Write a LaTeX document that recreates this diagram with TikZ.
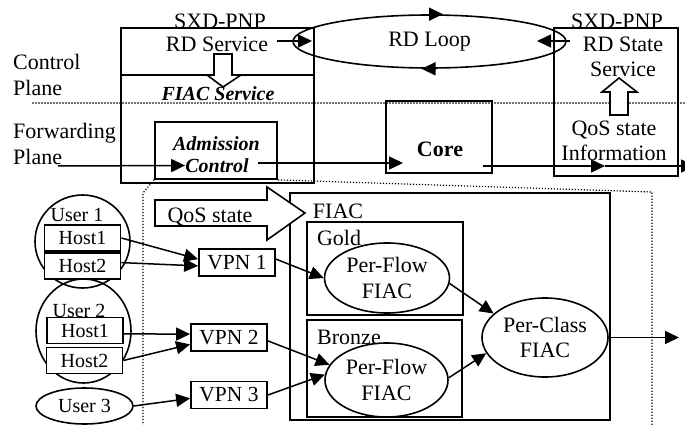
\documentclass[tikz,border=0pt]{standalone}
\usepackage{fontspec}
\setmainfont{Liberation Serif}
\usepackage{tikz}
\usetikzlibrary{arrows.meta,shapes.geometric}
\tikzstyle{txt}		= [inner sep=0pt, align=center, font=\fontsize{22}{25.5}\selectfont]
\tikzstyle{btxt}	= [inner sep=0pt, align=center, font=\fontsize{20}{22}\selectfont\bfseries\itshape]
\tikzstyle{utxt}	= [inner sep=0pt, align=center, font=\fontsize{20}{24}\selectfont]
\tikzstyle{frame}	= [draw=black, line width=1.8pt, inner sep=0pt]
\tikzstyle{hostbox}	= [frame, fill=white, minimum width=76pt, minimum height=26pt, font=\fontsize{20}{24}\selectfont]
\tikzstyle{vpnbox}	= [frame, fill=white, minimum width=76pt, minimum height=27pt, font=\fontsize{21.5}{24}\selectfont]
\tikzstyle{oval}	= [ellipse, draw=black, line width=1.6pt, inner sep=0pt, align=center, font=\fontsize{22}{25.5}\selectfont]
\tikzstyle{edge}	= [draw, line width=1.5pt, -{Triangle[length=14pt,width=13pt]}]
\tikzstyle{plane}	= [draw=black!55, line width=1.5pt, dash pattern=on 1.5pt off 1.5pt]
\tikzstyle{region}	= [draw=black, line width=1.2pt, dash pattern=on 1.2pt off 1.8pt]
\tikzstyle{fat}		= [draw=black, line width=1.6pt, fill=white, line join=miter]

\begin{document}
\begin{tikzpicture}[x=1pt, y=-1pt]
	\useasboundingbox (0,0) rectangle (685,425);
	
	%%%%% Planes
	\node[txt, anchor=west, align=left] (ctrl) at (13,75) {Control\\Plane};
	\node[txt, anchor=west, align=left] (fwd) at (13,144) {Forwarding\\Plane};
	\path[plane] (32,103) -- (685,103);
	
	%%%%% SXD-PNP services
	\node[frame, minimum width=193pt, minimum height=155pt] (rds) at (217.5,105.5) {};
	\draw[frame] (rds.west |- 0,75) -- (rds.east |- 0,75);
	\node[frame, minimum width=124pt, minimum height=148pt] (rdst) at (616,102) {};
	
	\node[txt] (sxd1) at (220,21) {SXD-PNP};
	\node[txt] (rdsvc) at (217,44) {RD Service};
	\node[btxt] (fiacsvc) at (218,94) {FIAC Service};
	\node[txt] (sxd2) at (617,21.5) {SXD-PNP};
	\node[txt] (rdsttxt) at (623,57) {RD State\\Service};
	\node[txt] (qosinfo) at (614,141) {QoS state\\Information};
	
	\draw[fat] (214,54) -- (232,54) -- (232,75) -- (241,75) -- (223,87) -- (207,75) -- (214,75) -- cycle;
	\draw[fat] (610,115) -- (628,115) -- (628,92) -- (637,92) -- (619,78) -- (602,92) -- (610,92) -- cycle;
	
	\node[oval, minimum width=273pt, minimum height=53pt] (loop) at (429.5,41.5) {RD Loop};
	
	\coordinate (rdsout) at (277,41);
	\coordinate (loopin) at (312,41);
	\coordinate (stout) at (570,41);
	\coordinate (loopout) at (537,41);
	
	%%%% RD loop
	\foreach \source/ \dest in {rdsout/loopin, stout/loopout}	\path[edge] (\source) -- (\dest) ;
	\path[edge] ([xshift=-1pt]loop.north) -- ([xshift=13.5pt]loop.north);
	\path[edge] ([xshift=6pt]loop.south) -- ([xshift=-8pt]loop.south);
	
	%%%%% Forwarding path
	\node[frame, minimum width=122pt, minimum height=57pt] (adm) at (216,150.5) {};
	\node[btxt] (adm1) at (216.5,144) {Admission};
	\node[btxt] (adm2) at (217,165.5) {Control};
	\node[frame, minimum width=106pt, minimum height=72pt] (core) at (439,137) {};
	\node[txt, font=\fontsize{22}{25.5}\selectfont\bfseries] (coretxt) at (440,149) {Core};
	
	\coordinate (fwdst) at (58,166);
	\coordinate (admout) at (258,163);
	\coordinate (corein) at (403,163);
	\coordinate (coreout) at (483,166);
	\coordinate (stin) at (605,166);
	\coordinate (exit) at (695,166);
	
	\foreach \source/ \dest in {fwdst/adm2.west, admout/corein, coreout/stin, stin/exit}	\path[edge] (\source) -- (\dest) ;
	
	%%%%% FIAC detail
	\path[region] (adm.south west) -- (143,193) -- (143,430);
	\path[region] (adm.south east) -- (652,192) -- (652,430);
	
	\node[frame, minimum width=320pt, minimum height=227pt] (fiac) at (450,306.5) {};
	\node[frame, minimum width=156pt, minimum height=93pt] (gold) at (385,268.5) {};
	\node[frame, minimum width=155pt, minimum height=97pt] (bronze) at (384.5,368.5) {};
	\node[txt] (fiaclbl) at (338,211.5) {FIAC};
	\node[txt] (goldlbl) at (339,238) {Gold};
	\node[txt] (bronzelbl) at (349,337) {Bronze};
	
	\draw[fat] (155,200) -- (267,200) -- (267,187) -- (305,213) -- (267,240) -- (267,226) -- (155,226) -- cycle;
	\node[txt] (qostxt) at (210,217) {QoS state};
	
	\node[oval, minimum width=125pt, minimum height=70pt] (pfg) at (387,278) {Per-Flow\\FIAC};
	\node[oval, minimum width=123pt, minimum height=74pt] (pfb) at (386.5,380) {Per-Flow\\FIAC};
	\node[oval, minimum width=126pt, minimum height=79pt] (pc) at (545,337.5) {Per-Class\\FIAC};
	\coordinate (pcout) at (679,337.5);
	
	%%%% users and hosts
	\node[oval, minimum width=95pt, minimum height=93pt] (u1) at (82.5,241.5) {};
	\node[oval, minimum width=95pt, minimum height=104pt] (u2) at (83.5,331) {};
	\node[oval, minimum width=97pt, minimum height=36pt, font=\fontsize{20}{24}\selectfont] (u3) at (84.5,406) {User 3};
	\node[utxt] (u1lbl) at (77,215) {User 1};
	\node[utxt] (u2lbl) at (79,310.5) {User 2};
	
	\foreach \pos/\name/\txt in {{(82.5,238)/u1h1/Host1}, {(82.5,266)/u1h2/Host2}, {(85,330.5)/u2h1/Host1}, {(84.5,360.5)/u2h2/Host2}}
	\node[hostbox] (\name) at \pos {\txt};
	
	\foreach \pos/\name/\txt in {{(237,262.5)/vpn1/VPN 1}, {(229,337.5)/vpn2/VPN 2}, {(229,395)/vpn3/VPN 3}}
	\node[vpnbox] (\name) at \pos {\txt};
	
	%%%% Flows
	\foreach \source/ \dest in {u1h1.east/vpn1.175, u1h2.5/vpn1.185, u2h1.-5/vpn2.175, u2h2.east/vpn2.190, u3.east/vpn3.185}	\path[edge] (\source) -- (\dest) ;
	\foreach \source/ \dest in {vpn1.5/pfg.west, vpn2.-5/pfb.165, vpn3.east/pfb.175}	\path[edge] (\source) -- (\dest) ;
	\foreach \source/ \dest in {pfg.-5/pc.155, pfb.2/pc.195, pc.east/pcout}	\path[edge] (\source) -- (\dest) ;
\end{tikzpicture}
\end{document}
